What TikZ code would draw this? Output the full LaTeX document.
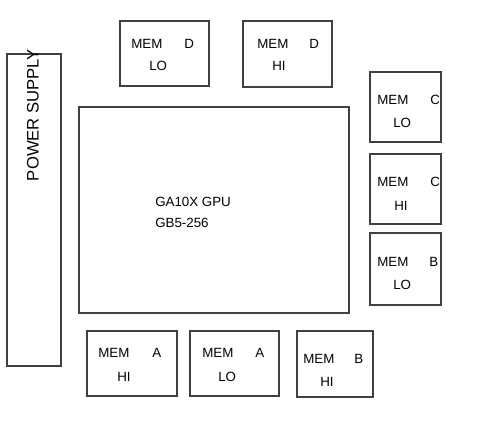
\documentclass[tikz,border=0pt]{standalone}
\usepackage{fontspec}
\setmainfont{Liberation Sans}
\usepackage{tikz}
\tikzset{chip/.style={draw=black!75, line width=0.9pt}}
\tikzset{lbl/.style={inner sep=0pt, anchor=west, font=\fontsize{10}{12}\selectfont}}

\begin{document}
\begin{tikzpicture}[x=0.75pt, y=-0.75pt]
    \useasboundingbox (0,0) rectangle (480,426);
    % power supply and gpu
    \draw [chip] (7,54) rectangle (61,366);
    \node [rotate=90, inner sep=0pt, font=\fontsize{12.5}{14}\selectfont] (psu) at (33,115) {POWER SUPPLY};
    \draw [chip] (79,107) rectangle (349,313);
    \node [lbl] (gpu) at (155,202) {GA10X GPU};
    \node [lbl] (gpu2) at (155,223) {GB5-256};
    % top row
    \draw [chip] (120,21) rectangle (209,86);
    \node [lbl] (dlo) at (131,44) {MEM};
    \node [lbl] (dlo2) at (184,44) {D};
    \node [lbl] (dlo3) at (149,66) {LO};
    \draw [chip] (243,21) rectangle (332,87);
    \node [lbl] (dhi) at (257,44) {MEM};
    \node [lbl] (dhi2) at (309,44) {D};
    \node [lbl] (dhi3) at (272,66) {HI};
    % right column
    \draw [chip] (370,72) rectangle (441,142);
    \node [lbl] (clo) at (377,100) {MEM};
    \node [lbl] (clo2) at (430,100) {C};
    \node [lbl] (clo3) at (393,123) {LO};
    \draw [chip] (370,154) rectangle (441,224);
    \node [lbl] (chi) at (377,182) {MEM};
    \node [lbl] (chi2) at (430,182) {C};
    \node [lbl] (chi3) at (394,206) {HI};
    \draw [chip] (370,233) rectangle (441,305);
    \node [lbl] (blo) at (377,262) {MEM};
    \node [lbl] (blo2) at (429,262) {B};
    \node [lbl] (blo3) at (393,285) {LO};
    % bottom row
    \draw [chip] (87,331) rectangle (177,396);
    \node [lbl] (ahi) at (98,353) {MEM};
    \node [lbl] (ahi2) at (152,353) {A};
    \node [lbl] (ahi3) at (117,377) {HI};
    \draw [chip] (190,331) rectangle (279,396);
    \node [lbl] (alo) at (202,353) {MEM};
    \node [lbl] (alo2) at (255,353) {A};
    \node [lbl] (alo3) at (218,377) {LO};
    \draw [chip] (297,331) rectangle (373,397);
    \node [lbl] (bhi) at (303,359) {MEM};
    \node [lbl] (bhi2) at (354,359) {B};
    \node [lbl] (bhi3) at (320,382) {HI};
\end{tikzpicture}
\end{document}
